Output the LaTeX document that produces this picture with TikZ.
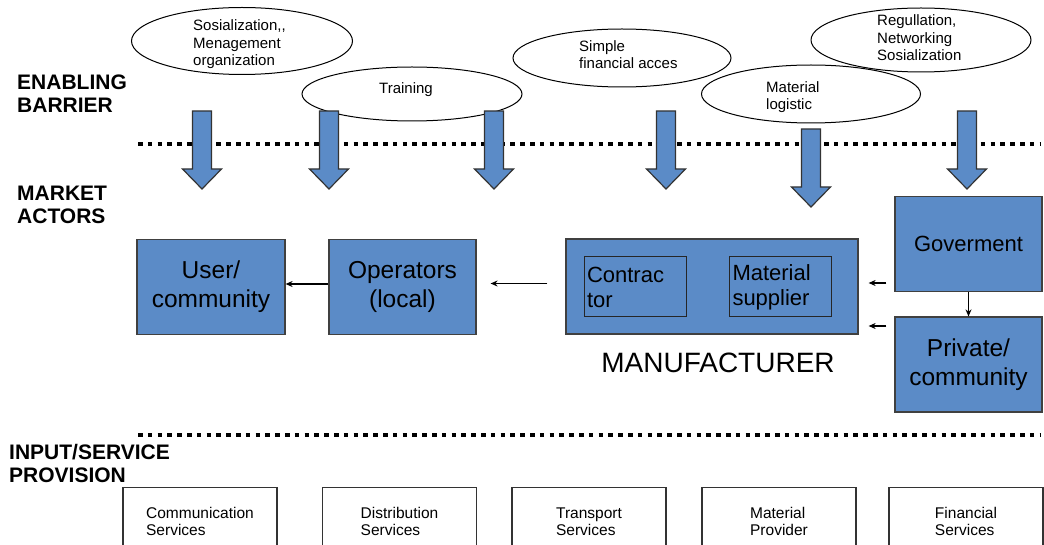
\documentclass[tikz,border=0pt]{standalone}
\usepackage{fontspec}
\setmainfont{Liberation Sans}
\usepackage{xcolor}
\usetikzlibrary{shapes.geometric, arrows.meta}
\definecolor{actorblue}{RGB}{91,139,199}

\tikzset{
  zonelabel/.style={font=\fontsize{21}{23}\selectfont\bfseries, align=left, inner sep=0pt, anchor=west},
  barrier/.style={draw, ellipse, line width=1pt, inner sep=0pt},
  bartext/.style={font=\fontsize{15}{17.5}\selectfont, align=left, inner sep=0pt},
  actor/.style={draw=black!75, fill=actorblue, line width=1.2pt, minimum width=147pt, minimum height=95pt, align=center, inner sep=0pt, font=\fontsize{24.5}{29}\selectfont},
  subactor/.style={draw=black!85, line width=1pt, minimum height=60pt, text width=96pt, inner sep=3pt, align=left, font=\fontsize{22}{25}\selectfont},
  service/.style={draw=black!80, line width=1.3pt, minimum width=154pt, minimum height=68pt, anchor=north, align=left, font=\fontsize{15.5}{17}\selectfont},
  flow/.style={-{Stealth[length=7pt,width=6pt]}, line width=1.5pt},
  zoneline/.style={line width=4pt, dash pattern=on 4.5pt off 5.3pt},
  pusharrow/.style={draw=black!80, fill=actorblue, line width=1.2pt}
}

\begin{document}
\begin{tikzpicture}[x=1pt, y=-1pt]
\useasboundingbox (0,0) rectangle (1044,545);

% zone labels
\node[zonelabel] (enabling) at (17,93.5) {ENABLING\\BARRIER};
\node[zonelabel] (market) at (17,204.5) {MARKET\\ACTORS};
\node[zonelabel] (input) at (9,463.5) {INPUT/SERVICE\\PROVISION};

% enabling barriers
\node[barrier, minimum width=221pt, minimum height=67pt] (sosial) at (242,41) {};
\node[barrier, minimum width=220pt, minimum height=54pt] (training) at (412,94) {};
\node[barrier, minimum width=218pt, minimum height=58pt] (finance) at (622,58) {};
\node[barrier, minimum width=219pt, minimum height=58pt] (logistic) at (811,94) {};
\node[barrier, minimum width=220pt, minimum height=64pt] (regul) at (921,40) {};
\node[bartext, anchor=west] (sosialtext) at (193,44.5) {Sosialization{,}{,}\\Menagement\\organization};
\node[bartext] (trainingtext) at (406,90) {Training};
\node[bartext, anchor=west] (financetext) at (579,54.5) {Simple\\financial acces};
\node[bartext, anchor=west] (logistictext) at (766,97) {Material\\logistic};
\node[bartext, anchor=west] (regultext) at (877,38) {Regullation,\\Networking\\Sosialization};

% zone borders
\draw[zoneline] (138,144) -- (1041,144);
\draw[zoneline] (138,435) -- (1041,435);

% block arrows
\foreach \xa/\ya in {202/111, 329/111, 494/111, 666/111, 811/129, 967/111}
  \draw[pusharrow] ({\xa-9.5},\ya) -- ({\xa+9.5},\ya) -- ({\xa+9.5},\ya+58) -- ({\xa+19.5},\ya+58)
    -- (\xa,\ya+78) -- ({\xa-19.5},\ya+58) -- ({\xa-9.5},\ya+58) -- cycle;

% market actors
\node[actor, minimum width=148pt] (user) at (211,287) {User/\\community};
\node[actor] (oper) at (402.5,287) {Operators\\(local)};
\node[actor, minimum width=292pt] (manu) at (712,286.5) {};
\node[subactor] (contr) at (635,287) {Contrac\\tor};
\node[subactor] (supp) at (780.5,287) {Material\\supplier};
\node[font=\fontsize{28}{30}\selectfont, inner sep=0pt] (manulabel) at (718,363) {MANUFACTURER};
\node[actor, font=\fontsize{22}{26}\selectfont] (gov) at (968.5,244) {Goverment};
\node[actor] (priv) at (968.5,364.5) {Private/\\community};

\draw[flow] ([yshift=3pt]oper.west) -- ([yshift=3pt]user.east);
\draw[flow, shorten <=18pt, shorten >=14pt] ([yshift=3pt]manu.west) -- ([yshift=3pt]manu.west -| oper.east);
\draw[flow, shorten <=8pt, shorten >=10pt] ([yshift=-39pt]gov.west) -- ([yshift=-39pt]gov.west -| manu.east);
\draw[flow, shorten <=8pt, shorten >=10pt] ([yshift=38.5pt]priv.west) -- ([yshift=38.5pt]priv.west -| manu.east);
\draw[flow] (gov) -- (priv);

% services
\node[service] (comm) at (200,487) {Communication\\Services};
\node[service] (distr) at (399.5,487) {Distribution\\Services};
\node[service] (transp) at (589,487) {Transport\\Services};
\node[service] (matprov) at (779,487) {Material\\Provider};
\node[service] (fin) at (966,487) {Financial\\Services};
\end{tikzpicture}
\end{document}
